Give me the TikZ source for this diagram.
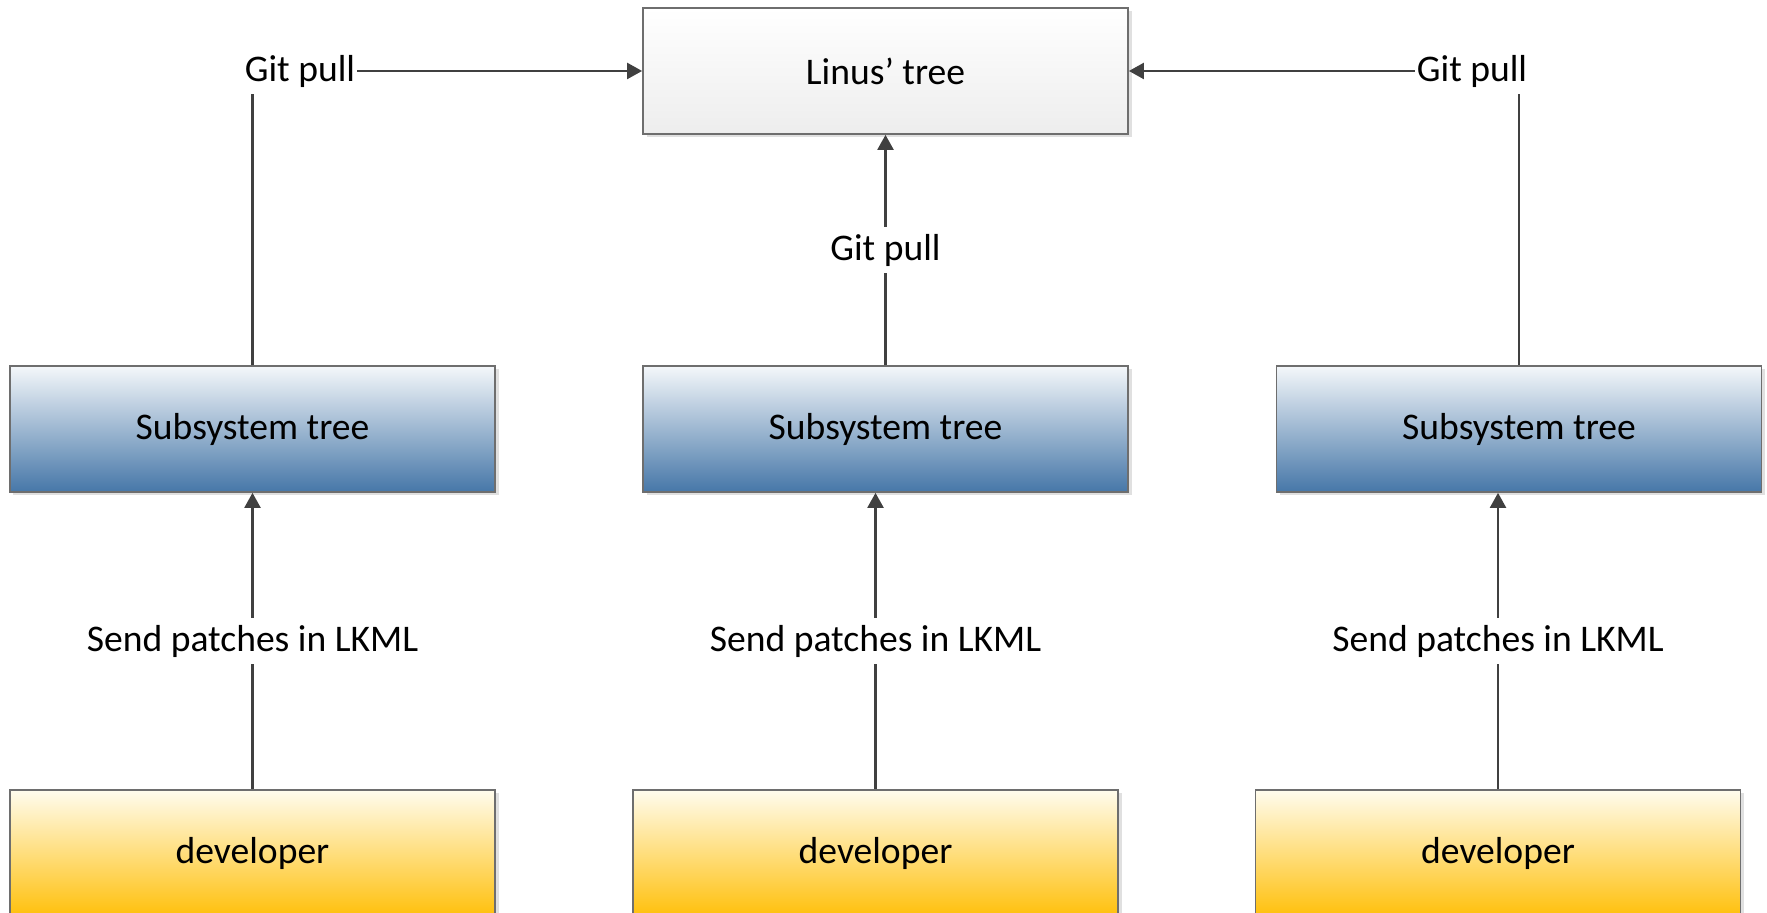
\documentclass[tikz,border=0pt]{standalone}
\usepackage{fontspec}
\setmainfont{Carlito}
\usepackage{xcolor}
\usepackage{tikz}
\usetikzlibrary{arrows.meta,positioning,shadows,calc}
\definecolor{linegray}{HTML}{404040}
\definecolor{boxedge}{HTML}{6E6E6E}
\definecolor{subtop}{HTML}{F4F7FA}
\definecolor{subbot}{HTML}{4677A8}
\definecolor{devtop}{HTML}{FFFCEE}
\definecolor{devbot}{HTML}{FFC00C}
\begin{document}
\begin{tikzpicture}[transform shape,scale=1,
		font=\fontsize{10.7}{13}\selectfont,
		>={Triangle[length=1.5mm,width=1.6mm]},
		box/.style={draw=boxedge,line width=0.5pt,minimum width=4.85cm,minimum height=1.26cm,inner sep=0pt,
			drop shadow={shadow xshift=0.035cm,shadow yshift=-0.035cm,fill=black!12,opacity=1}},
		linusbox/.style={box,top color=white,bottom color=black!7},
		subbox/.style={box,top color=subtop,bottom color=subbot},
		devbox/.style={box,top color=devtop,bottom color=devbot},
		conn/.style={draw=linegray,line width=0.65pt},
		lbl/.style={fill=white,inner xsep=0.5pt,inner ysep=2pt}]
		\useasboundingbox (0,0) rectangle (17.67,9.13);
		\node[linusbox] (linus) at (8.855,8.42) {Linus’ tree};
		\node[subbox] (sub1) at (2.525,4.84) {Subsystem tree};
		\node[subbox] (sub2) at (8.855,4.84) {Subsystem tree};
		\node[subbox] (sub3) at (15.19,4.84) {Subsystem tree};
		\node[devbox] (dev1) at (2.525,0.60) {developer};
		\node[devbox] (dev2) at (8.755,0.60) {developer};
		\node[devbox] (dev3) at (14.98,0.60) {developer};
		\draw[conn,->] (sub1.north) |- (linus.west);
		\draw[conn,->] (sub3.north) |- (linus.east);
		\draw[conn,->] (sub2.north) -- node[lbl] (gp2) {Git pull} (linus.south);
		\node[lbl] (gp1) at (3.00,8.42) {Git pull};
		\node[lbl] (gp3) at (14.72,8.42) {Git pull};
		\draw[conn,->] (dev1.north) -- node[lbl] (lk1) {Send patches in LKML} (dev1.north |- sub1.south);
		\draw[conn,->] (dev2.north) -- node[lbl] (lk2) {Send patches in LKML} (dev2.north |- sub2.south);
		\draw[conn,->] (dev3.north) -- node[lbl] (lk3) {Send patches in LKML} (dev3.north |- sub3.south);
	\end{tikzpicture}
\end{document}
